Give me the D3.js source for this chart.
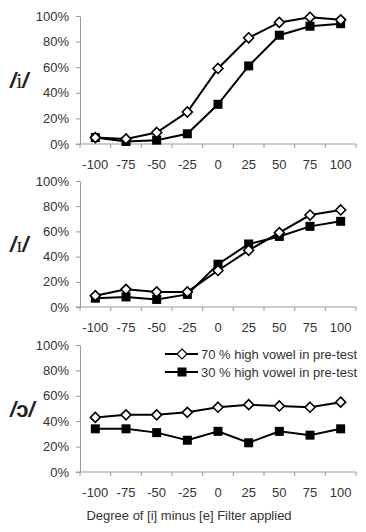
<!DOCTYPE html>
<html lang="en">
<head>
  <meta charset="utf-8">
  <title>Identification by filter degree</title>
  <script src="https://d3js.org/d3.v7.min.js"></script>
  <style>
    body { margin: 0; background: #fff; }
  </style>
</head>
<body>
<div id="chart"></div>
<script>
  ////////////////////////////////////////////////// DATA
  var categories = ["-100", "-75", "-50", "-25", "0", "25", "50", "75", "100"];
  var yTicks = [0, 20, 40, 60, 80, 100];
  var seriesNames = ["70 % high vowel in pre-test", "30 % high vowel in pre-test"];

  // /i/ panel
  var iHigh70 = [5, 4, 9, 25, 59, 83, 95, 99, 97];
  var iHigh30 = [5, 2, 3, 8, 31, 61, 85, 92, 94];
  // /ɪ/ panel
  var ihHigh70 = [9, 14, 12, 12, 29, 45, 59, 73, 77];
  var ihHigh30 = [7, 8, 6, 10, 34, 50, 56, 64, 68];
  // /ɔ/ panel
  var oHigh70 = [43, 45, 45, 47, 51, 53, 52, 51, 55];
  var oHigh30 = [34, 34, 31, 25, 32, 23, 32, 29, 34];

  ////////////////////////////////////////////////// SETUP
  var width = 366, height = 532;
  var left = 80, right = 356;
  var fontSize = 13;
  var panels = [
    {label: "i", top: 16, bottom: 144, a: iHigh70, b: iHigh30},
    {label: "ɪ", top: 181, bottom: 307, a: ihHigh70, b: ihHigh30},
    {label: "ɔ", top: 345, bottom: 472, a: oHigh70, b: oHigh30}
  ];

  var svg = d3.select("#chart").append("svg")
      .attr("width", width)
      .attr("height", height)
      .attr("font-family", "Arial, 'Liberation Sans', sans-serif");

  svg.append("rect").attr("width", width).attr("height", height).attr("fill", "#fff");

  var x = d3.scaleBand().domain(categories).range([left, right]);
  var cx = function(d) { return x(d) + x.bandwidth() / 2; };

  panels.forEach(function(p, k) {
    var y = d3.scaleLinear().domain([0, 100]).range([p.bottom, p.top]);
    var g = svg.append("g");

    // y axis
    var yAxis = g.append("g")
        .attr("transform", "translate(" + left + ",0)")
        .call(d3.axisLeft(y).tickValues(yTicks).tickSize(4).tickSizeOuter(0)
          .tickFormat(function(d) { return d + "%"; }));
    yAxis.select(".domain").attr("stroke", "#999");
    yAxis.selectAll(".tick line").attr("stroke", "#999");
    yAxis.selectAll("text").attr("font-size", fontSize).attr("fill", "#333").attr("x", -11);

    // x axis: ticks on the band edges
    g.append("line")
        .attr("x1", left - 4).attr("x2", right)
        .attr("y1", p.bottom).attr("y2", p.bottom)
        .attr("stroke", "#999");
    var edges = categories.map(function(c) { return x(c); }).concat([right]);
    g.selectAll(".xtick").data(edges).join("line")
        .attr("x1", function(d) { return d; }).attr("x2", function(d) { return d; })
        .attr("y1", p.bottom).attr("y2", p.bottom + 4)
        .attr("stroke", "#999");
    g.selectAll(".xlab").data(categories).join("text")
        .attr("x", cx)
        .attr("y", p.bottom + 25)
        .attr("text-anchor", "middle")
        .attr("font-size", fontSize)
        .attr("fill", "#333")
        .text(function(d) { return d; });

    // vowel label
    var lab = g.append("text")
        .attr("x", 10)
        .attr("y", (p.top + p.bottom) / 2 + 8)
        .attr("font-size", 22)
        .attr("font-weight", "bold")
        .attr("fill", "#222");
    lab.append("tspan").attr("font-style", "italic").text("/");
    lab.append("tspan")
        .attr("font-family", k < 2 ? "'Liberation Serif', 'Times New Roman', serif" : "Arial, sans-serif")
        .attr("font-weight", k < 2 ? "normal" : "bold")
        .text(p.label);
    lab.append("tspan").attr("font-style", "italic").text("/");

    var line = d3.line()
        .x(function(d, i) { return cx(categories[i]); })
        .y(function(d) { return y(d); });

    // 30% series (filled squares)
    g.append("path").datum(p.b)
        .attr("fill", "none").attr("stroke", "#000").attr("stroke-width", 2)
        .attr("d", line);
    // 70% series (open diamonds)
    g.append("path").datum(p.a)
        .attr("fill", "none").attr("stroke", "#000").attr("stroke-width", 2)
        .attr("d", line);

    g.selectAll(".sq").data(p.b).join("rect")
        .attr("x", function(d, i) { return cx(categories[i]) - 4.5; })
        .attr("y", function(d) { return y(d) - 4.5; })
        .attr("width", 9).attr("height", 9)
        .attr("fill", "#000");

    g.selectAll(".dm").data(p.a).join("path")
        .attr("transform", function(d, i) { return "translate(" + cx(categories[i]) + "," + y(d) + ")"; })
        .attr("d", "M0,-5L5,0L0,5L-5,0Z")
        .attr("fill", "#fff").attr("stroke", "#000").attr("stroke-width", 1.6);
  });

  // legend
  var legend = svg.append("g");
  var rows = [{y: 354, open: true}, {y: 372, open: false}];
  rows.forEach(function(r, i) {
    legend.append("line")
        .attr("x1", 165).attr("x2", 198).attr("y1", r.y).attr("y2", r.y)
        .attr("stroke", "#000").attr("stroke-width", 2);
    if (r.open) {
      legend.append("path")
          .attr("transform", "translate(182," + r.y + ")")
          .attr("d", "M0,-5L5,0L0,5L-5,0Z")
          .attr("fill", "#fff").attr("stroke", "#000").attr("stroke-width", 1.2);
    } else {
      legend.append("rect")
          .attr("x", 177.5).attr("y", r.y - 4.5).attr("width", 9).attr("height", 9)
          .attr("fill", "#000");
    }
    legend.append("text")
        .attr("x", 201).attr("y", r.y + 4.5)
        .attr("font-size", fontSize).attr("fill", "#333")
        .text(seriesNames[i]);
  });

  // x title
  svg.append("text")
      .attr("x", 189).attr("y", 520)
      .attr("text-anchor", "middle")
      .attr("font-size", fontSize).attr("fill", "#333")
      .text("Degree of [i] minus [e] Filter applied");
</script>
</body>
</html>
